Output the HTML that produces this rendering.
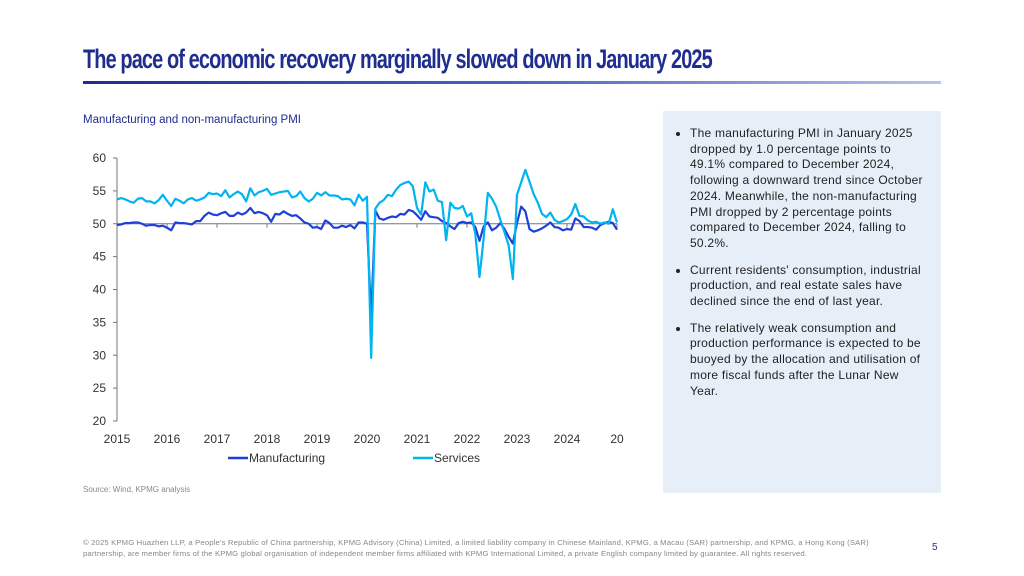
<!DOCTYPE html>
<html><head><meta charset="utf-8">
<style>
body{margin:0;width:1024px;height:576px;background:#fff;position:relative;overflow:hidden;font-family:"Liberation Sans",sans-serif;}
#title{position:absolute;left:83px;top:44px;font-family:"Liberation Sans Narrow","Liberation Sans",sans-serif;font-weight:bold;font-size:27px;color:#1e2d8f;letter-spacing:-1.2px;white-space:nowrap;transform-origin:0 0;}
#rule{position:absolute;left:83px;top:81px;width:858px;height:3px;background:linear-gradient(90deg,#1e2d8f,#4a63c0 50%,#b7c3ea);}
#sub{position:absolute;left:83px;top:114px;font-size:11.5px;color:#1e2d8f;}
#panel{position:absolute;left:663px;top:111px;width:278px;height:382px;background:#e6eef8;}
#panel ul{margin:0;padding:15px 4px 0 27px;font-size:12px;line-height:15.7px;color:#222;letter-spacing:0.25px;white-space:nowrap;}
#panel li{margin-bottom:11px;}
#src{position:absolute;left:83px;top:485px;font-size:8px;color:#888;}
#foot{position:absolute;left:83px;top:537px;width:820px;font-size:7.7px;line-height:11px;color:#888;letter-spacing:0.15px;}
#pg{position:absolute;left:932px;top:542px;font-size:10px;color:#1e2d8f;}
</style></head><body>
<div id="title">The pace of economic recovery marginally slowed down in January 2025</div>
<div id="rule"></div>
<div id="sub">Manufacturing and non-manufacturing PMI</div>
<svg id="chart" style="position:absolute;left:0;top:0" width="660" height="480"></svg>
<div id="panel"><ul>
<li>The manufacturing PMI in January 2025<br>dropped by 1.0 percentage points to<br>49.1% compared to December 2024,<br>following a downward trend since October<br>2024. Meanwhile, the non-manufacturing<br>PMI dropped by 2 percentage points<br>compared to December 2024, falling to<br>50.2%.</li>
<li>Current residents' consumption, industrial<br>production, and real estate sales have<br>declined since the end of last year.</li>
<li>The relatively weak consumption and<br>production performance is expected to be<br>buoyed by the allocation and utilisation of<br>more fiscal funds after the Lunar New<br>Year.</li>
</ul></div>
<div id="src">Source: Wind, KPMG analysis</div>
<div id="foot">© 2025 KPMG Huazhen LLP, a People's Republic of China partnership, KPMG Advisory (China) Limited, a limited liability company in Chinese Mainland, KPMG, a Macau (SAR) partnership, and KPMG, a Hong Kong (SAR) partnership, are member firms of the KPMG global organisation of independent member firms affiliated with KPMG International Limited, a private English company limited by guarantee. All rights reserved.</div>
<div id="pg">5</div>
<script>
const yearLabels=["2015","2016","2017","2018","2019","2020","2021","2022","2023","2024","20"];
const yTicks=[20,25,30,35,40,45,50,55,60];
const manufacturing=[49.8,49.9,50.1,50.1,50.2,50.2,50.0,49.7,49.8,49.8,49.6,49.7,
49.4,49.0,50.2,50.1,50.1,50.0,49.9,50.4,50.4,51.2,51.7,51.4,
51.3,51.6,51.8,51.2,51.2,51.7,51.4,51.7,52.4,51.6,51.8,51.6,
51.3,50.3,51.5,51.4,51.9,51.5,51.2,51.3,50.8,50.2,50.0,49.4,
49.5,49.2,50.5,50.1,49.4,49.4,49.7,49.5,49.8,49.3,50.2,50.2,
50.0,35.7,52.0,50.8,50.6,50.9,51.1,51.0,51.5,51.4,52.1,51.9,
51.3,50.6,51.9,51.1,51.0,50.9,50.4,50.1,49.6,49.2,50.1,50.3,
50.1,50.2,49.5,47.4,49.6,50.2,49.0,49.4,50.1,49.2,48.0,47.0,
50.1,52.6,51.9,49.2,48.8,49.0,49.3,49.7,50.2,49.5,49.4,49.0,
49.2,49.1,50.8,50.4,49.5,49.5,49.4,49.1,49.8,50.1,50.3,50.1,49.1];
const services=[53.7,53.9,53.7,53.4,53.2,53.8,53.9,53.4,53.4,53.1,53.6,54.4,
53.5,52.7,53.8,53.5,53.1,53.7,53.9,53.5,53.7,54.0,54.7,54.5,
54.6,54.2,55.1,54.0,54.5,54.9,54.5,53.4,55.4,54.3,54.8,55.0,
55.3,54.4,54.6,54.8,54.9,55.0,54.0,54.2,54.9,53.9,53.4,53.8,
54.7,54.3,54.8,54.3,54.3,54.2,53.7,53.8,53.7,52.8,54.4,53.5,
54.1,29.6,52.3,53.2,53.6,54.4,54.2,55.2,55.9,56.2,56.4,55.7,
52.4,51.4,56.3,54.9,55.2,53.5,53.3,47.5,53.2,52.4,52.3,52.7,
51.1,51.6,48.4,41.9,47.8,54.7,53.8,52.6,50.6,48.7,46.7,41.6,
54.4,56.3,58.2,56.4,54.5,53.2,51.5,51.0,51.7,50.6,50.2,50.4,
50.7,51.4,53.0,51.2,51.1,50.5,50.2,50.3,50.0,50.2,50.0,52.2,50.2];
const NS="http://www.w3.org/2000/svg",svg=document.getElementById('chart');
const x0=117,yearW=50,yTop=158,yBot=421,vMin=20,vMax=60;
const xs=i=>x0+i*yearW/12, ys=v=>yBot-(v-vMin)/(vMax-vMin)*(yBot-yTop);
function mk(t,a){const e=document.createElementNS(NS,t);for(const k in a)e.setAttribute(k,a[k]);svg.appendChild(e);return e;}
let ax=mk('line',{x1:x0,y1:yTop,x2:x0,y2:yBot,stroke:'#777','stroke-width':1});


yTicks.forEach(v=>{
 let t=mk('line',{x1:x0-4,x2:x0,y1:ys(v),y2:ys(v),stroke:'#777'});
 
 
 let l=mk('text',{x:x0-11,y:ys(v)+4,'text-anchor':'end','font-size':12,fill:'#333','font-family':'Liberation Sans'});
 l.textContent=v;
 
 
});
let xa=mk('line',{x1:x0,y1:ys(50),x2:xs(manufacturing.length-1),y2:ys(50),stroke:'#777'});


yearLabels.forEach((s,i)=>{
 let t=mk('line',{x1:xs(i*12),x2:xs(i*12),y1:ys(50),y2:ys(50)+4,stroke:'#777'});
 
 
 let l=mk('text',{x:xs(i*12),y:443,'text-anchor':'middle','font-size':12,fill:'#333','font-family':'Liberation Sans'});
 l.textContent=s;
 
 
});
function line(arr,col,name){
 let p=mk('polyline',{points:arr.map((v,i)=>xs(i)+','+ys(v)).join(' '),fill:'none',stroke:col,'stroke-width':2.2,'stroke-linejoin':'round'});
 
 
}
line(manufacturing,'#1e3fd8','manufacturing-line');
line(services,'#00b4f0','services-line');
const legend=[["Manufacturing","#1e3fd8",228],["Services","#00b4f0",413]];
legend.forEach(([n,c,lx])=>{
 let s=mk('line',{x1:lx,x2:lx+20,y1:458,y2:458,stroke:c,'stroke-width':2.5});
 
 
 let t=mk('text',{x:lx+21,y:462,'font-size':12,fill:'#333','font-family':'Liberation Sans'});
 t.textContent=n;
 
 
});
const ti=document.getElementById('title');
ti.style.transform='scaleX('+(629/ti.offsetWidth)+')';
</script>
</body></html>
